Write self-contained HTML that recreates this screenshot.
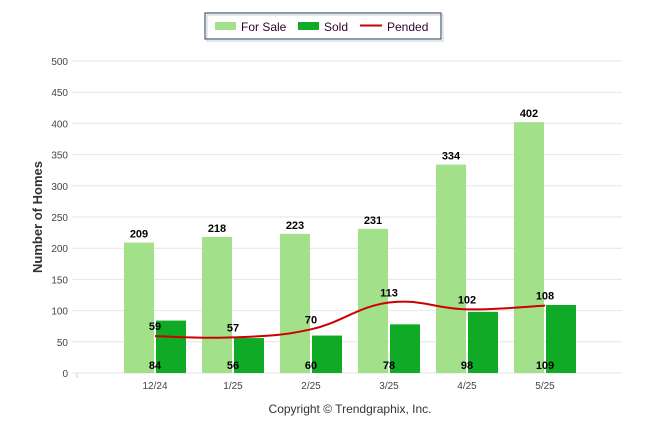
<!DOCTYPE html>
<html><head><meta charset="utf-8"><style>
body{margin:0;background:#fff;font-family:"Liberation Sans",Arial,sans-serif}
svg text{font-family:"Liberation Sans",Arial,sans-serif}
</style></head><body>
<svg id="c" width="646" height="434" xmlns="http://www.w3.org/2000/svg">
<g>
<rect x="205" y="13" width="236" height="26" fill="#fff" stroke="#1f3864" stroke-width="1"/>
<rect x="207" y="15" width="236" height="26" fill="none" stroke="#888" stroke-width="1" opacity="0.4"/>
<rect x="215" y="22" width="21" height="8" fill="#a2e08a"/>
<text x="241" y="31" font-size="12" fill="#330033">For Sale</text>
<rect x="298" y="22" width="21" height="8" fill="#0fab26"/>
<text x="324" y="31" font-size="12" fill="#330033">Sold</text>
<line x1="360" y1="25.5" x2="382" y2="25.5" stroke="#cc0000" stroke-width="2"/>
<text x="387" y="31" font-size="12" fill="#330033">Pended</text>
</g>
<text transform="translate(42,217) rotate(-90)" text-anchor="middle" font-size="13" font-weight="bold" fill="#333">Number of Homes</text>
<text x="350" y="413" text-anchor="middle" font-size="12" fill="#333">Copyright © Trendgraphix, Inc.</text>
<g id="grid"></g><g id="bars"></g><g id="line"></g><g id="labels"></g>
</svg>
<script>
const categories=["12/24","1/25","2/25","3/25","4/25","5/25"];
const forSale=[209,218,223,231,334,402];
const sold=[84,56,60,78,98,109];
const pended=[59,57,70,113,102,108];
const yTicks=[0,50,100,150,200,250,300,350,400,450,500];
const NS="http://www.w3.org/2000/svg";
const y0=373,yTop=61,yMax=500;
const y=v=>y0-(v/yMax)*(y0-yTop);
const x=i=>155+78*i;
function mk(t,a,p){const e=document.createElementNS(NS,t);for(const k in a)e.setAttribute(k,a[k]);document.getElementById(p).appendChild(e);return e;}
yTicks.forEach(t=>{
 const l=mk('line',{x1:72,x2:622,y1:y(t),y2:y(t),stroke:'#e6e6e6','stroke-width':1},'grid');
 
 
 const tx=mk('text',{x:68,y:y(t)+4,'text-anchor':'end','font-size':10,fill:'#444'},'grid');
 tx.textContent=t;
 
 
});
const tk=mk('line',{x1:77,x2:77,y1:y0,y2:y0+5,stroke:'#ccc'},'grid');


categories.forEach((c,i)=>{
 const cx=x(i);
 const b1=mk('rect',{x:cx-31,y:y(forSale[i]),width:30,height:y0-y(forSale[i]),fill:'#a2e08a'},'bars');
 
 
 const b2=mk('rect',{x:cx+1,y:y(sold[i]),width:30,height:y0-y(sold[i]),fill:'#0fab26'},'bars');
 
 
 const xl=mk('text',{x:cx,y:y0+16,'text-anchor':'middle','font-size':10,fill:'#444'},'labels');
 xl.textContent=c;
 
 
 const l1=mk('text',{x:cx-16,y:y(forSale[i])-5,'text-anchor':'middle','font-size':11,'font-weight':'bold',fill:'#000'},'labels');
 l1.textContent=forSale[i];
 
 
 const l2=mk('text',{x:cx,y:y0-4,'text-anchor':'middle','font-size':11,'font-weight':'bold',fill:'#000'},'labels');
 l2.textContent=sold[i];
 
 
 const l3=mk('text',{x:cx,y:y(pended[i])-6,'text-anchor':'middle','font-size':11,'font-weight':'bold',fill:'#000'},'labels');
 l3.textContent=pended[i];
 
 
});
const pts=pended.map((v,i)=>[x(i),y(v)]);
let d=`M${pts[0][0]},${pts[0][1]}`;
for(let i=0;i<pts.length-1;i++){
 const p0=pts[Math.max(0,i-1)],p1=pts[i],p2=pts[i+1],p3=pts[Math.min(pts.length-1,i+2)];
 const t=0.2;
 d+=` C${p1[0]+(p2[0]-p0[0])*t},${p1[1]+(p2[1]-p0[1])*t} ${p2[0]-(p3[0]-p1[0])*t},${p2[1]-(p3[1]-p1[1])*t} ${p2[0]},${p2[1]}`;
}
const pl=mk('path',{d:d,fill:'none',stroke:'#cc0000','stroke-width':2},'line');


</script>
</body></html>
